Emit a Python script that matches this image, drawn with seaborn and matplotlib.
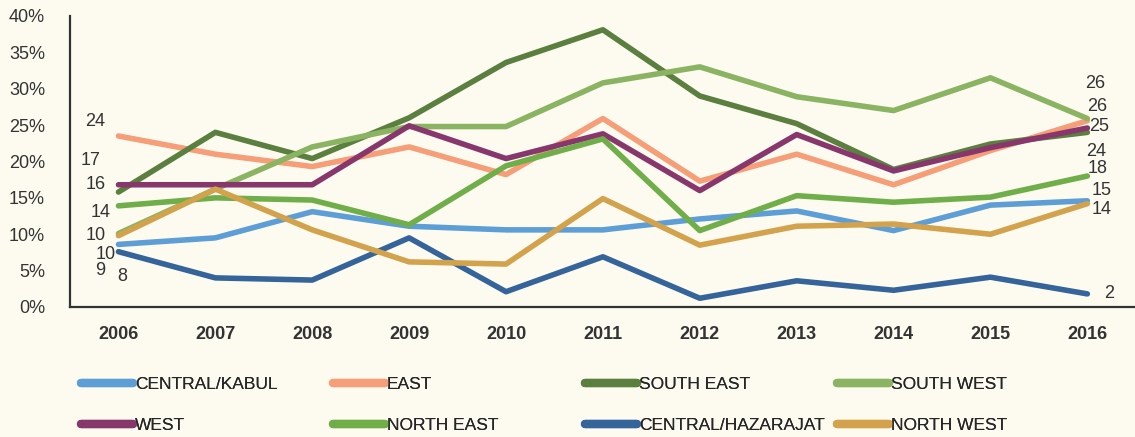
import pandas as pd
import matplotlib.pyplot as plt
import seaborn as sns

sns.set_style("white")
plt.rcParams['font.family'] = ['Liberation Sans', 'DejaVu Sans']

years = [2006, 2007, 2008, 2009, 2010, 2011, 2012, 2013, 2014, 2015, 2016]

central_kabul = [8.6, 9.5, 13.1, 11.1, 10.6, 10.6, 12.1, 13.2, 10.5, 14.0, 14.6]
east = [23.5, 21.0, 19.3, 22.0, 18.2, 25.9, 17.3, 21.0, 16.8, 21.5, 25.6]
south_east = [15.8, 24.0, 20.4, 26.0, 33.6, 38.1, 29.0, 25.2, 18.9, 22.4, 24.0]
south_west = [10.1, 16.2, 22.0, 24.8, 24.8, 30.8, 33.0, 28.9, 27.0, 31.5, 25.9]
west = [16.8, 16.8, 16.8, 24.9, 20.4, 23.8, 16.0, 23.7, 18.7, 21.9, 24.6]
north_east = [13.9, 15.0, 14.7, 11.3, 19.4, 23.1, 10.5, 15.3, 14.4, 15.1, 18.0]
central_hazarajat = [7.6, 4.0, 3.7, 9.5, 2.1, 6.9, 1.2, 3.6, 2.3, 4.1, 1.8]
north_west = [9.8, 16.2, 10.6, 6.2, 5.9, 14.9, 8.5, 11.1, 11.4, 10.0, 14.2]

regions = ['CENTRAL/KABUL', 'EAST', 'SOUTH EAST', 'SOUTH WEST',
           'WEST', 'NORTH EAST', 'CENTRAL/HAZARAJAT', 'NORTH WEST']
series = [central_kabul, east, south_east, south_west,
          west, north_east, central_hazarajat, north_west]
colors = ['#5E9ED6', '#F59E77', '#5B7F3F', '#8AB462',
          '#88376D', '#70AE4A', '#34649A', '#D2A24C']

# label offsets (pixels) for first / last values
start_off = [(-18, -26), (-23, 15), (-23, 8), (-23, -2),
             (-28, 24), (-18, -7), (4, -25), (-13, -19)]
end_off = [(14, 10), (10, 14), (9, -19), (8, 35),
           (12, 2), (10, 8), (22, 0), (14, -6)]

df = pd.DataFrame({
    'year': years * len(regions),
    'value': [v for s in series for v in s],
    'region': [r for r in regions for _ in years],
})

bg = '#FDFBF0'
fig = plt.figure(figsize=(11.35, 4.37), dpi=100, facecolor=bg)
ax = fig.add_axes([0.0617, 0.2975, 0.939, 0.666], facecolor=bg)

sns.lineplot(data=df, x='year', y='value', hue='region', hue_order=regions,
             palette=dict(zip(regions, colors)), linewidth=4,
             solid_capstyle='round', ax=ax, legend=False)

for s, so, eo in zip(series, start_off, end_off):
    ax.annotate(f"{s[0]:.0f}", (years[0], s[0]), xytext=so, textcoords='offset pixels',
                ha='center', va='center', fontsize=13, color='#333333')
    ax.annotate(f"{s[-1]:.0f}", (years[-1], s[-1]), xytext=eo, textcoords='offset pixels',
                ha='center', va='center', fontsize=13, color='#333333')

ax.set_xlim(2005.5, 2016.5)
ax.set_ylim(0, 40)
ax.set_xticks(years)
ax.set_yticks(range(0, 41, 5))
ax.set_yticklabels([f"{t}%" for t in range(0, 41, 5)])
ax.set_xlabel('')
ax.set_ylabel('')
ax.tick_params(axis='both', length=0, labelsize=13, labelcolor='#333333')
ax.tick_params(axis='x', pad=14)
ax.tick_params(axis='y', pad=18)
for t in ax.get_xticklabels():
    t.set_fontweight('bold')
sns.despine(ax=ax)
for sp in ['left', 'bottom']:
    ax.spines[sp].set_color('#333333')
    ax.spines[sp].set_linewidth(1.6)

# legend: 4 fixed-width columns, 2 rows (one small legend per column)
for col in range(4):
    idx = [col, col + 4]
    handles = [plt.Line2D([], [], color=colors[i], linewidth=6, solid_capstyle='round')
               for i in idx]
    leg = fig.legend(handles, [regions[i] for i in idx], loc='upper left',
                     bbox_to_anchor=(0.0715 + col * 0.222, 0.137),
                     frameon=False, borderaxespad=0, borderpad=0,
                     handlelength=3.0, handletextpad=0.1, labelspacing=1.45,
                     prop={'size': 12.5})
    fig.add_artist(leg)

fig.savefig('out.png', dpi=100, facecolor=bg)
